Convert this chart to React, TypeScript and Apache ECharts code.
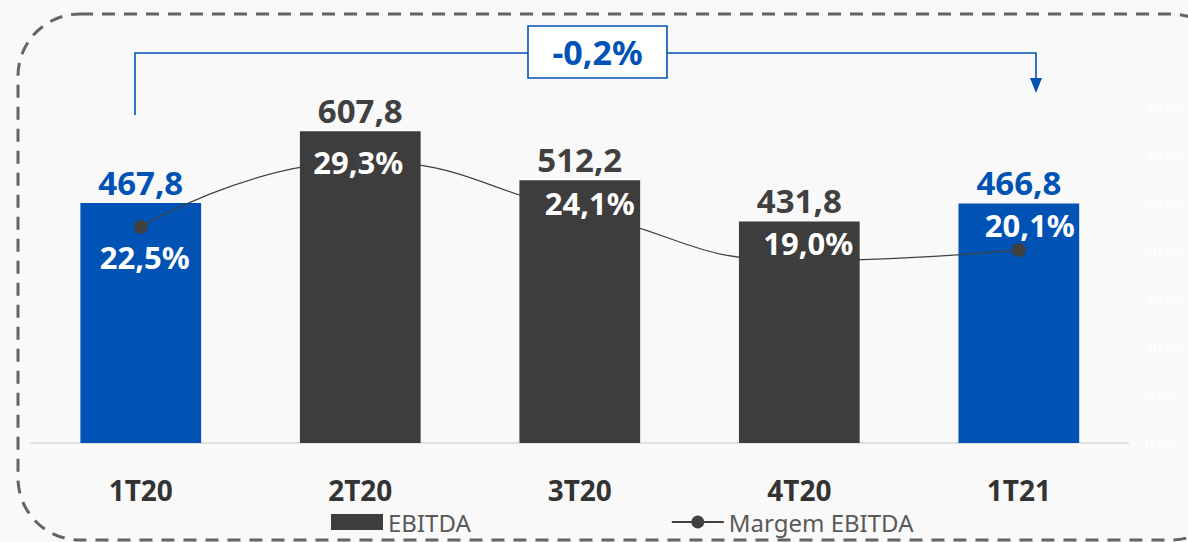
import React, { useEffect, useRef } from "react";
import * as echarts from "echarts";

const categories = ["1T20", "2T20", "3T20", "4T20", "1T21"];
const ebitda = [467.8, 607.8, 512.2, 431.8, 466.8];
const margem = [22.5, 29.3, 24.1, 19.0, 20.1];
const highlighted = [true, false, false, false, true];
const marginLabelOffsets = [[4, 30], [-2, 0], [10, -9], [9, -18], [11, -25]];
const variationText = "-0,2%";

const BLUE = "#0052b4";
const DARK = "#3d3d3d";
const FONT = "Noto Sans";

const fmt = (v: number) => v.toFixed(1).replace(".", ",");

export default function App() {
  const ref = useRef<HTMLDivElement>(null);
  useEffect(() => {
    if (!ref.current) return;
    const chart = echarts.init(ref.current, undefined, { renderer: "svg" });
    chart.setOption({
      animation: false,
      backgroundColor: "#f9f9f9",
      textStyle: { fontFamily: FONT },
      grid: { left: 31, right: 49, top: 107, bottom: 99 },
      legend: {
        left: 326,
        top: 505,
        itemGap: 200,
        itemWidth: 52,
        itemHeight: 16,
        textStyle: { fontSize: 24, color: "#595959", fontFamily: FONT },
        data: [
          { name: "EBITDA", icon: "rect", itemStyle: { color: DARK } },
          { name: "Margem EBITDA" },
        ],
      },
      xAxis: {
        type: "category",
        data: categories,
        axisTick: { show: false },
        axisLine: { lineStyle: { color: "#d9d9d9", width: 1.5 } },
        axisLabel: {
          fontSize: 28,
          fontWeight: "bold",
          color: "#333333",
          margin: 33,
          fontFamily: FONT,
        },
      },
      yAxis: [
        { type: "value", min: 0, max: 655, show: false, splitLine: { show: false } },
        {
          type: "value",
          min: 0,
          max: 35,
          interval: 5,
          position: "right",
          splitLine: { show: false },
          axisLine: { show: false },
          axisTick: { show: false },
          axisLabel: {
            color: "#ffffff",
            fontSize: 14,
            margin: 17,
            formatter: (v: number) => fmt(v) + "%",
          },
        },
      ],
      series: [
        {
          name: "EBITDA",
          type: "bar",
          barWidth: "55%",
          itemStyle: { color: DARK },
          data: ebitda.map((v, i) => ({
            value: v,
            itemStyle: { color: highlighted[i] ? BLUE : DARK },
            label: { color: highlighted[i] ? BLUE : "#404040" },
          })),
          label: {
            show: true,
            position: "top",
            distance: 7,
            fontSize: 33,
            lineHeight: 28,
            fontWeight: "bold",
            fontFamily: FONT,
            formatter: (p: any) => fmt(p.value),
          },
          z: 2,
        },
        {
          name: "Margem EBITDA",
          type: "line",
          yAxisIndex: 1,
          smooth: true,
          symbol: "circle",
          symbolSize: 14,
          itemStyle: { color: "#404040" },
          lineStyle: { color: "#404040", width: 1.2 },
          data: margem.map((v, i) => ({
            value: v,
            label: { offset: marginLabelOffsets[i] },
          })),
          label: {
            show: true,
            position: "inside",
            fontSize: 31,
            lineHeight: 26,
            fontWeight: "bold",
            color: "#ffffff",
            fontFamily: FONT,
            formatter: (p: any) => fmt(p.value) + "%",
          },
          z: 3,
        },
      ],
      graphic: [
        {
          type: "rect",
          shape: { x: 18, y: 14, width: 1215, height: 526, r: 62 },
          style: { fill: "none", stroke: "#646464", lineWidth: 3, lineDash: [13, 9] },
          silent: true,
          z: 0,
        },
        {
          type: "polyline",
          shape: { points: [[135, 115], [135, 53], [1036, 53], [1036, 80]] },
          style: { stroke: BLUE, lineWidth: 1.6, fill: "none" },
          z: 10,
        },
        {
          type: "polygon",
          shape: { points: [[1030, 78], [1042, 78], [1036, 93]] },
          style: { fill: BLUE },
          z: 10,
        },
        {
          type: "rect",
          shape: { x: 528, y: 26, width: 139, height: 52 },
          style: { fill: "#ffffff", stroke: BLUE, lineWidth: 1.6 },
          z: 11,
        },
        {
          type: "text",
          x: 597.5,
          y: 52,
          style: {
            text: variationText,
            fill: BLUE,
            fontSize: 34,
            fontWeight: "bold",
            fontFamily: FONT,
            align: "center",
            verticalAlign: "middle",
          },
          z: 12,
        },
      ],
    });
    return () => chart.dispose();
  }, []);
  return (
    <div
      ref={ref}
      style={{ position: "absolute", left: 0, top: 0, width: 1188, height: 542 }}
    />
  );
}
